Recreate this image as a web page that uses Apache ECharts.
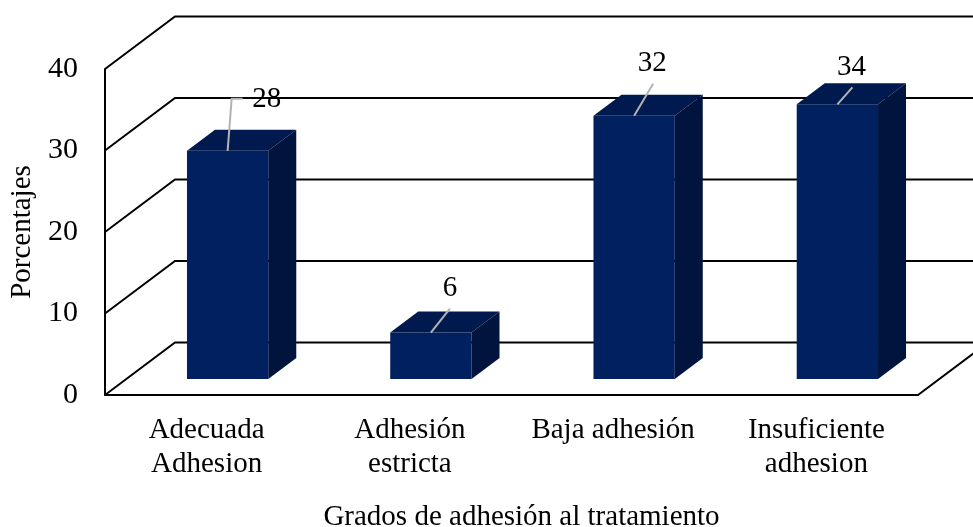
<!DOCTYPE html>
<html>
<head>
<meta charset="utf-8">
<style>html,body{margin:0;padding:0;background:#fff;overflow:hidden}#c{width:973px;height:527px}</style>
<script src="https://cdn.jsdelivr.net/npm/echarts@6/dist/echarts.min.js"></script>
</head>
<body>
<div id="c"></div>
<script>
const categories = ['Adecuada\nAdhesion', 'Adhesión\nestricta', 'Baja adhesión', 'Insuficiente\nadhesion'];
const values = [28, 5.7, 32.3, 33.7];
const valueLabels = ['28', '6', '32', '34'];
const yTicks = [0, 10, 20, 30, 40];
const yAxisTitle = 'Porcentajes';
const xAxisTitle = 'Grados de adhesión al tratamiento';

// 3D look (pixels)
const WALL = [70, -52.5];
const DEPTH = [28, -21];
const BAR_SHIFT = [21, -16];
// leader-line bend and label centre, relative to the top-front centre of each bar
const LEADERS = [
  {pts: [[4, -52], [15, -52]], text: [39, -51]},
  {pts: [[19, -24]], text: [19, -44]},
  {pts: [[19, -32]], text: [18, -52]},
  {pts: [[15, -17]], text: [14, -37]}
];
const FONT = '"Liberation Serif","Times New Roman",serif';

function renderWall(params, api) {
  const y = api.coord([0, api.value(1)])[1];
  const cs = params.coordSys;
  const x0 = cs.x, x1 = cs.x + cs.width;
  const isZero = api.value(1) === 0;
  const pts = [[x0, y], [x0 + WALL[0], y + WALL[1]], [x1 + WALL[0], y + WALL[1]]];
  if (isZero) pts.push([x1, y]);
  return {type: 'polyline', shape: {points: pts}, style: {fill: null, stroke: '#000', lineWidth: 2}, silent: true};
}

function renderBar(params, api) {
  const i = api.value(0), v = api.value(1);
  const base = api.coord([i, 0]), top = api.coord([i, v]);
  const w = api.size([1, 0])[0] * 0.4;
  const xl = base[0] + BAR_SHIFT[0] - w / 2, xr = xl + w;
  const yb = base[1] + BAR_SHIFT[1], yt = top[1] + BAR_SHIFT[1];
  const dx = DEPTH[0], dy = DEPTH[1];
  const cx = (xl + xr) / 2;
  const lead = LEADERS[i];
  const line = [[cx, yt]].concat(lead.pts.map(p => [cx + p[0], yt + p[1]]));
  return {type: 'group', children: [
    {type: 'rect', shape: {x: xl, y: yt, width: w, height: yb - yt}, style: {fill: '#00205f'}},
    {type: 'polygon', shape: {points: [[xl, yt], [xl + dx, yt + dy], [xr + dx, yt + dy], [xr, yt]]}, style: {fill: '#001a4f'}},
    {type: 'polygon', shape: {points: [[xr, yt], [xr + dx, yt + dy], [xr + dx, yb + dy], [xr, yb]]}, style: {fill: '#00143e'}},
    {type: 'polyline', shape: {points: line}, style: {fill: null, stroke: '#b3b3b3', lineWidth: 2}},
    {type: 'text', x: cx + lead.text[0], y: yt + lead.text[1],
      style: {text: valueLabels[i], fill: '#000', font: '29px ' + FONT, align: 'center', verticalAlign: 'middle'}}
  ]};
}

const chart = echarts.init(document.getElementById('c'));
chart.setOption({
  animation: false,
  backgroundColor: '#fff',
  grid: {left: 105, right: 55, top: 69, bottom: 132, outerBoundsMode: 'none'},
  xAxis: {
    type: 'category', data: categories, boundaryGap: true,
    axisTick: {show: false},
    axisLine: {lineStyle: {color: '#000', width: 2}},
    axisLabel: {color: '#000', fontFamily: FONT, fontSize: 29, lineHeight: 34, margin: 18, interval: 0},
    name: xAxisTitle, nameLocation: 'middle', nameGap: 108,
    nameTextStyle: {color: '#000', fontFamily: FONT, fontSize: 29, padding: [0, 0, 0, 20]}
  },
  yAxis: {
    type: 'value', min: 0, max: 40, interval: 10,
    splitLine: {show: false},
    axisTick: {show: false},
    axisLine: {show: true, lineStyle: {color: '#000', width: 2}},
    axisLabel: {color: '#000', fontFamily: FONT, fontSize: 30, margin: 27},
    name: yAxisTitle, nameLocation: 'middle', nameGap: 61, nameRotate: 90,
    nameTextStyle: {color: '#000', fontFamily: FONT, fontSize: 29}
  },
  series: [
    {type: 'custom', clip: false, silent: true, z: 1, data: yTicks.map(t => [0, t]),
      encode: {x: 0, y: 1}, renderItem: renderWall},
    {type: 'custom', clip: false, silent: true, z: 3, data: values.map((v, i) => [i, v]),
      encode: {x: 0, y: 1}, renderItem: renderBar}
  ]
});
</script>
</body>
</html>
